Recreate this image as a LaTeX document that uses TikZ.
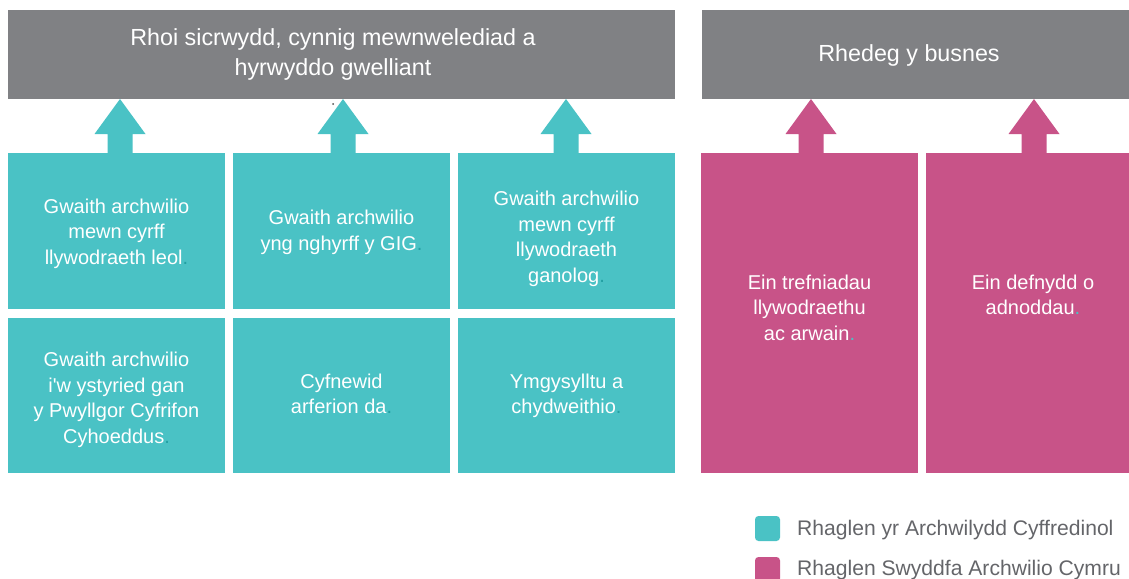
\documentclass[tikz,border=0pt]{standalone}
\usepackage{fontspec}
\setmainfont{Liberation Sans}
\usetikzlibrary{calc}
\definecolor{cteal}{HTML}{4AC2C5}
\definecolor{cpink}{HTML}{C85388}
\definecolor{cgray}{HTML}{808184}
\definecolor{cdot}{HTML}{23A0A3}
\definecolor{clegend}{HTML}{646569}
\newcommand{\tdot}{{\color{cdot}.}}
\newcommand{\pdot}{{\color{cteal}.}}
\newcommand{\fl}{\rule{0pt}{16pt}}
\newcommand{\hl}{\rule{0pt}{20pt}}
% #1 colour, #2 base coordinate, #3 target node
\newcommand{\myarrow}[3]{%
  \fill[#1] ($(#2)+(-12.5,0)$) -- ($(#2)+(-12.5,-19)$) -- ($(#2)+(-25.5,-19)$)
    -- (#2 |- #3.south) -- ($(#2)+(25.5,-19)$) -- ($(#2)+(12.5,-19)$)
    -- ($(#2)+(12.5,0)$) -- cycle;}
\begin{document}
\begin{tikzpicture}[x=1pt,y=-1pt,
  box/.style={anchor=north west, inner sep=0pt, outer sep=0pt},
  tealbox/.style={box, fill=cteal, minimum width=217pt, minimum height=156pt},
  pinkbox/.style={box, fill=cpink, minimum height=320pt},
  graybox/.style={box, fill=cgray, minimum height=89pt},
  headtxt/.style={inner sep=0pt, anchor=north, text=white, align=center,
    font=\fontsize{23.3}{30}\selectfont},
  bodytxt/.style={inner sep=0pt, anchor=north, text=white, align=center,
    font=\fontsize{20}{25.4}\selectfont},
  legsq/.style={inner sep=0pt, minimum size=25pt, rounded corners=3.5pt},
  legtxt/.style={inner sep=0pt, anchor=base west, text=clegend,
    font=\fontsize{21.1}{24}\selectfont}
]
\useasboundingbox (0,0) rectangle (1129,578);

% top boxes
\node[graybox, minimum width=667pt] (top1) at (8,10) {};
\node[headtxt] (top1t) at (333,25.7) {\hl Rhoi sicrwydd, cynnig mewnwelediad a\\hyrwyddo gwelliant};
\node[graybox, minimum width=427pt] (top2) at (702,10) {};
\node[headtxt] (top2t) at (909,41.7) {\hl Rhedeg y busnes};
\fill[black!70] (333,104) circle (1);

% teal boxes
\node[tealbox] (t1) at (8,153) {};
\node[tealbox] (t2) at (233,153) {};
\node[tealbox] (t3) at (458,153) {};
\node[tealbox, minimum height=155pt] (t4) at (8,318) {};
\node[tealbox, minimum height=155pt] (t5) at (233,318) {};
\node[tealbox, minimum height=155pt] (t6) at (458,318) {};
\node[bodytxt] (t1t) at (t1.center |- 0,197.3) {\fl Gwaith archwilio\\mewn cyrff\\llywodraeth leol\tdot};
\node[bodytxt] (t2t) at (t2.center |- 0,208.5) {\fl Gwaith archwilio\\yng nghyrff y GIG\tdot};
\node[bodytxt] (t3t) at (t3.center |- 0,189.7) {\fl Gwaith archwilio\\mewn cyrff\\llywodraeth\\ganolog\tdot};
\node[bodytxt] (t4t) at (t4.center |- 0,350.7) {\fl Gwaith archwilio\\i\textquotesingle w ystyried gan\\y Pwyllgor Cyfrifon\\Cyhoeddus\tdot};
\node[bodytxt] (t5t) at (t5.center |- 0,372.3) {\fl Cyfnewid\\arferion da\tdot};
\node[bodytxt] (t6t) at (t6.center |- 0,372.3) {\fl Ymgysylltu a\\chydweithio\tdot};

% pink boxes
\node[pinkbox, minimum width=217pt] (p1) at (701,153) {};
\node[pinkbox, minimum width=203pt] (p2) at (926,153) {};
\node[bodytxt] (p1t) at (809.5,273) {\fl Ein trefniadau\\llywodraethu\\ac arwain\pdot};
\node[bodytxt] (p2t) at (1033,273) {\fl Ein defnydd o\\adnoddau\pdot};

% arrows
\coordinate (a1) at ($(t1.north)+(3.5,0)$);
\coordinate (a2) at ($(t2.north)+(1.5,0)$);
\coordinate (a3) at ($(t3.north)+(-0.5,0)$);
\coordinate (a4) at ($(p1.north)+(1.5,0)$);
\coordinate (a5) at ($(p2.north)+(6.5,0)$);
\myarrow{cteal}{a1}{top1}
\myarrow{cteal}{a2}{top1}
\myarrow{cteal}{a3}{top1}
\myarrow{cpink}{a4}{top2}
\myarrow{cpink}{a5}{top2}

% legend
\node[legsq, fill=cteal] (l1) at (767.5,528.5) {};
\node[legtxt] (l1t) at (797,535) {Rhaglen yr Archwilydd Cyffredinol};
\node[legsq, fill=cpink] (l2) at (767.5,569.5) {};
\node[legtxt] (l2t) at (797,575.5) {Rhaglen Swyddfa Archwilio Cymru};
\end{tikzpicture}
\end{document}
